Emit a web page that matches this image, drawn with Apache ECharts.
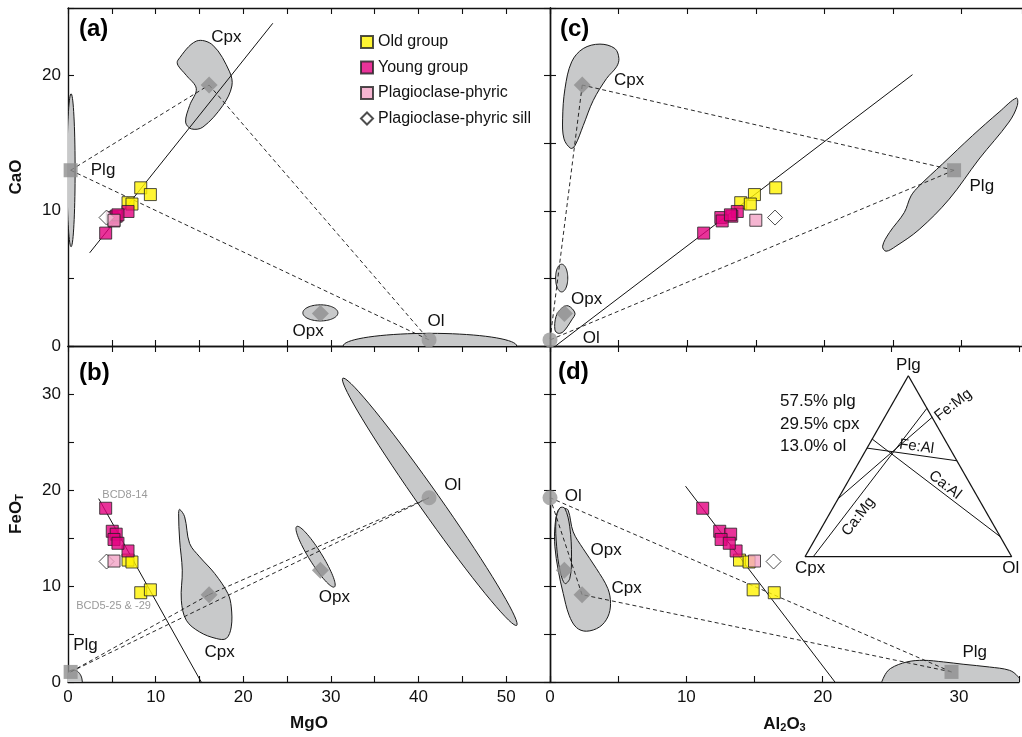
<!DOCTYPE html>
<html>
<head>
<meta charset="utf-8">
<title>Mixing diagrams</title>
<script src="https://cdn.jsdelivr.net/npm/echarts@6/dist/echarts.min.js"></script>
<style>
html, body { margin: 0; padding: 0; background: #fff; }
#chart { width: 1022px; height: 737px; }
</style>
</head>
<body>
<div id="chart"></div>
<script>
// 数据列: [MgO, CaO, FeOT, Al2O3]
var MGO = 0, CAO = 1, FEO = 2, AL = 3;

var oldGroup = [
    [8.3, 11.7, 9.3, 16.45],
    [9.4, 11.2, 9.6, 14.9],
    [6.85, 10.6, 12.7, 13.9],
    [7.3, 10.5, 12.5, 14.6]
];
var youngGroup = [
    [4.3, 8.35, 18.1, 11.2],
    [6.85, 9.95, 13.65, 13.65],
    [5.05, 9.5, 15.7, 12.45],
    [5.5, 9.6, 15.4, 13.25],
    [5.25, 9.25, 14.85, 12.55],
    [5.7, 9.7, 14.45, 13.15]
];
var plagPhyric = [[5.25, 9.3, 12.6, 15.0]];
var plagSill = [[4.4, 9.5, 12.55, 16.4]];

// 矿物端元
var plg = [0.3, 13.0, 1.05, 29.45];
var cpx = [16.1, 19.3, 9.1, 2.35];
var ol = [41.2, 0.45, 19.2, 0.0];
var opx = [28.8, 2.4, 11.65, 1.05];

// 矿物区域 (pts = 多边形, ell = 椭圆 [x1, y1, x2, y2, 短轴比])
var fieldsA = [
    {pts: [[12.54, 21.14], [14.64, 22.55], [16.53, 22.25], [18.44, 20.28], [18.70, 19.23], [17.67, 17.79], [15.39, 16.19], [14.07, 16.06], [13.42, 16.56], [13.88, 17.79], [14.64, 19.03], [13.50, 20.02], [12.54, 20.77]]},
    {ell: [0.35, 18.66, 0.35, 7.34, 0.053]},
    {ell: [26.8, 2.45, 30.8, 2.45, 0.46]},
    {ell: [31.4, 0, 51.2, 0, 0.146]}
];
var fieldsB = [
    {pts: [[12.74, 17.98], [13.31, 17.21], [13.88, 14.43], [15.02, 13.04], [16.73, 11.31], [18.24, 9.22], [18.63, 7.82], [18.63, 5.74], [18.06, 4.53], [16.92, 4.53], [15.02, 5.21], [13.50, 6.43], [12.93, 8.52], [13.04, 11.65], [12.74, 14.78], [12.62, 17.56]]},
    {ell: [26.1, 16.2, 30.4, 9.9, 0.18]},
    {ell: [31.36, 31.64, 51.2, 5.9, 0.07]},
    {ell: [0.6, 1.25, 0.6, -1.25, 0.75]}
];
var fieldsC = [
    {pts: [[5.02, 21.26], [4.73, 22.0], [3.64, 22.33], [2.42, 22.0], [1.58, 21.02], [1.09, 19.03], [0.92, 16.80], [1.02, 15.32], [1.51, 14.62], [1.82, 14.82], [2.42, 16.30], [3.15, 18.16], [4.12, 19.78], [4.85, 20.65]]},
    {ell: [0.85, 6.05, 0.85, 4.0, 0.44]},
    {pts: [[0.36, 1.19], [0.44, 2.18], [0.85, 2.80], [1.33, 2.97], [1.82, 2.43], [1.58, 1.93], [0.97, 1.06], [0.60, 0.94]]},
    {pts: [[33.99, 18.34], [34.06, 17.79], [33.45, 16.56], [31.27, 13.83], [29.09, 10.86], [26.91, 8.62], [25.21, 7.38], [24.49, 7.01], [24.24, 7.38], [24.73, 8.38], [25.82, 9.87], [26.31, 11.10], [26.91, 11.84], [28.60, 13.46], [30.79, 15.56], [32.73, 17.30]]}
];
var fieldsD = [
    {pts: [[1.02, 18.08], [1.33, 17.9], [1.70, 15.64], [2.42, 13.91], [3.40, 11.82], [4.24, 9.74], [4.44, 8.17], [4.24, 6.78], [3.64, 5.74], [2.67, 5.29], [1.94, 5.67], [1.40, 6.96], [0.97, 9.22], [0.60, 11.65], [0.36, 14.08], [0.36, 16.16], [0.60, 17.9]]},
    {pts: [[0.44, 16.86], [0.49, 14.08], [0.73, 11.65], [1.09, 10.26], [1.45, 10.78], [1.58, 13.03], [1.45, 16.16], [1.09, 18.08], [0.73, 18.14]]},
    {pts: [[24.4, -0.3], [24.49, 0.52], [24.97, 1.40], [26.18, 2.09], [27.40, 2.26], [28.85, 2.09], [30.30, 1.85], [32.24, 1.56], [33.7, 1.22], [34.3, 0.6], [34.6, -0.3]]}
];

// 趋势线
var trendA = [[2.47, 6.89], [23.37, 23.87]];
var trendB = [[3.5, 19.1], [15.2, 0]];
var trendC = [[0.4, 0], [26.42, 20.07]];
var trendD = [[9.94, 20.4], [20.9, 0]];

// 文字标注 [文字, x, y]
var labelsA = [['Cpx', 18.06, 22.8], ['Plg', 4.0, 13.0], ['Opx', 27.4, 1.06], ['Ol', 42.0, 1.86]];
var labelsB = [['Cpx', 17.3, 3.1], ['Opx', 30.4, 8.8], ['Ol', 43.9, 20.5], ['Plg', 2.0, 3.8]];
var notesB = [['BCD8-14', 6.5, 19.5], ['BCD5-25 & -29', 5.2, 7.9]];
var labelsC = [['Cpx', 5.77, 19.65], ['Opx', 2.67, 3.42], ['Ol', 3.0, 0.57], ['Plg', 31.47, 11.8]];
var labelsD = [['Ol', 1.7, 19.3], ['Opx', 4.12, 13.73], ['Cpx', 5.62, 9.74], ['Plg', 31.15, 3.13]];

// 三角图 [plg, cpx, ol]
var ternLines = [
    [[0.82, 0, 0.18], [0, 0.96, 0.04]],
    [[0.77, 0, 0.23], [0.32, 0.68, 0]],
    [[0.60, 0.40, 0], [0.53, 0, 0.47]],
    [[0.65, 0.35, 0], [0.11, 0, 0.89]]
];
// 三角图文字 [文字, x, y, 旋转, 字号]
var ternText = [
    ['Plg', 0.5, 1.06, 0, 17], ['Cpx', 0.025, -0.065, 0, 17], ['Ol', 0.995, -0.065, 0, 17],
    ['Fe:Mg', 0.717, 0.838, 0.66, 15], ['Fe:Al', 0.54, 0.608, -0.136, 15],
    ['Ca:Al', 0.677, 0.396, -0.66, 15], ['Ca:Mg', 0.258, 0.221, 0.92, 15]
];
var mixText = '57.5% plg\n29.5% cpx\n13.0% ol';

var FONT = 'Liberation Sans, Arial, Helvetica, sans-serif';

var panels = [
    {xi: MGO, yi: CAO, xr: [0, 55], yr: [0, 25], fields: fieldsA, trend: trendA, labels: labelsA},
    {xi: MGO, yi: FEO, xr: [0, 55], yr: [0, 35], fields: fieldsB, trend: trendB, labels: labelsB},
    {xi: AL, yi: CAO, xr: [0, 34.4], yr: [0, 25], fields: fieldsC, trend: trendC, labels: labelsC},
    {xi: AL, yi: FEO, xr: [0, 34.4], yr: [0, 35], fields: fieldsD, trend: trendD, labels: labelsD}
];

var grids = [
    {left: 68, top: 8, width: 482, height: 338},
    {left: 68, top: 346, width: 482, height: 336},
    {left: 550, top: 8, width: 472, height: 338},
    {left: 550, top: 346, width: 472, height: 336},
    {left: 805, top: 375.7, width: 206.7, height: 181}
];

function makeAxis(gi, pos, range, showLabel, showLine) {
    return {
        type: 'value', gridIndex: gi, position: pos,
        min: range[0], max: range[1], interval: 5,
        axisLine: {show: showLine, onZero: false, lineStyle: {color: '#111', width: 1.4}},
        axisTick: {show: showLine, inside: true, length: 6, lineStyle: {color: '#111', width: 1.1}},
        splitLine: {show: false},
        axisLabel: {
            show: showLabel, margin: 7, fontSize: 17, color: '#111', fontFamily: FONT,
            formatter: function (v) { return v % 10 === 0 ? String(v) : ''; }
        }
    };
}

var xAxes = [], yAxes = [];
panels.forEach(function (p, gi) {
    xAxes.push(makeAxis(gi, 'bottom', p.xr, gi === 1 || gi === 3, true));
    xAxes.push(makeAxis(gi, 'top', p.xr, false, true));
    yAxes.push(makeAxis(gi, 'left', p.yr, gi < 2, true));
    yAxes.push(makeAxis(gi, 'right', p.yr, false, gi < 2));
});
xAxes.push({type: 'value', gridIndex: 4, min: 0, max: 1, show: false});
yAxes.push({type: 'value', gridIndex: 4, min: 0, max: 1, show: false});

var nameBold = {fontSize: 17, fontWeight: 'bold', color: '#111', fontFamily: FONT};
var subBold = {fontSize: 11, fontWeight: 'bold', color: '#111', fontFamily: FONT, verticalAlign: 'bottom', padding: [7, 0, 0, 0]};

Object.assign(xAxes[2], {name: 'MgO', nameLocation: 'middle', nameGap: 33, nameTextStyle: nameBold});
Object.assign(xAxes[6], {name: '{b|Al}{s|2}{b|O}{s|3}', nameLocation: 'middle', nameGap: 33,
    nameTextStyle: {rich: {b: nameBold, s: subBold}}});
Object.assign(yAxes[0], {name: 'CaO', nameLocation: 'middle', nameGap: 43, nameTextStyle: nameBold});
Object.assign(yAxes[2], {name: '{b|FeO}{s|T}', nameLocation: 'middle', nameGap: 43,
    nameTextStyle: {rich: {b: nameBold, s: subBold}}});

var fieldStyle = {fill: '#c8c9ca', stroke: '#1a1a1a', lineWidth: 1};

function fieldSeries(gi, fields) {
    return {
        type: 'custom', xAxisIndex: 2 * gi, yAxisIndex: 2 * gi, clip: true, z: 1, silent: true,
        data: fields.map(function (f, i) { return [i, 0]; }),
        renderItem: function (params, api) {
            var f = fields[api.value(0)];
            if (f.pts) {
                return {type: 'polygon', shape: {points: f.pts.map(function (q) { return api.coord(q); }), smooth: 0.35}, style: fieldStyle};
            }
            var a = api.coord([f.ell[0], f.ell[1]]), b = api.coord([f.ell[2], f.ell[3]]);
            var cx = (a[0] + b[0]) / 2, cy = (a[1] + b[1]) / 2;
            var dx = (b[0] - a[0]) / 2, dy = (b[1] - a[1]) / 2, r = f.ell[4];
            var pts = [];
            for (var k = 0; k < 72; k++) {
                var t = k / 72 * 2 * Math.PI, c = Math.cos(t), s = Math.sin(t);
                pts.push([cx + dx * c - dy * r * s, cy + dy * c + dx * r * s]);
            }
            return {type: 'polygon', shape: {points: pts}, style: fieldStyle};
        }
    };
}

function segSeries(xIdx, yIdx, segs, z) {
    return {
        type: 'custom', xAxisIndex: xIdx, yAxisIndex: yIdx, z: z, silent: true, clip: false,
        data: segs.map(function (s) { return [s[0][0], s[0][1], s[1][0], s[1][1], s[2] ? 1 : 0, s[3] || 1]; }),
        renderItem: function (params, api) {
            var p1 = api.coord([api.value(0), api.value(1)]);
            var p2 = api.coord([api.value(2), api.value(3)]);
            var dashed = api.value(4) === 1;
            return {
                type: 'line', shape: {x1: p1[0], y1: p1[1], x2: p2[0], y2: p2[1]},
                style: {stroke: '#111', lineWidth: api.value(5), lineDash: dashed ? [4, 3] : null}
            };
        }
    };
}

function textSeries(xIdx, yIdx, items, z) {
    return {
        type: 'custom', xAxisIndex: xIdx, yAxisIndex: yIdx, z: z, silent: true, clip: false,
        data: items.map(function (t, i) { return [t[1], t[2], i]; }),
        renderItem: function (params, api) {
            var t = items[api.value(2)];
            var p = api.coord([api.value(0), api.value(1)]);
            return {
                type: 'text', x: p[0], y: p[1], rotation: t.rot || 0,
                style: {text: t[0], fontSize: t.size || 17, fontFamily: FONT, fill: t.color || '#111', align: 'center', verticalAlign: 'middle'}
            };
        }
    };
}

function pick(rows, xi, yi) {
    return rows.map(function (r) { return [r[xi], r[yi]]; });
}

var series = [];
panels.forEach(function (p, gi) {
    var xi = p.xi, yi = p.yi;
    series.push(fieldSeries(gi, p.fields));
    var P = [plg[xi], plg[yi]], C = [cpx[xi], cpx[yi]], O = [ol[xi], ol[yi]];
    series.push(segSeries(2 * gi, 2 * gi, [[P, C, true, 0.9], [C, O, true, 0.9], [P, O, true, 0.9], [p.trend[0], p.trend[1], false, 1]], 2));
    series.push({
        type: 'scatter', xAxisIndex: 2 * gi, yAxisIndex: 2 * gi, z: 3, silent: true, clip: false,
        itemStyle: {color: '#8e8e8e'},
        data: [
            {value: P, symbol: 'rect', symbolSize: 14},
            {value: C, symbol: 'diamond', symbolSize: 17},
            {value: O, symbol: 'circle', symbolSize: 15, itemStyle: {color: '#999'}},
            {value: [opx[xi], opx[yi]], symbol: 'diamond', symbolSize: 17}
        ]
    });
    var groups = [
        {name: 'Old group', rows: oldGroup, symbol: 'rect', size: 12, color: '#fff200'},
        {name: 'Young group', rows: youngGroup, symbol: 'rect', size: 12, color: '#e4007f'},
        {name: 'Plagioclase-phyric sill', rows: plagSill, symbol: 'diamond', size: 15, color: '#ffffff'},
        {name: 'Plagioclase-phyric', rows: plagPhyric, symbol: 'rect', size: 12, color: '#f3a2c6'}
    ];
    groups.forEach(function (g) {
        series.push({
            name: g.name, type: 'scatter', xAxisIndex: 2 * gi, yAxisIndex: 2 * gi, z: 4, clip: false,
            symbol: g.symbol, symbolSize: g.size,
            itemStyle: {color: g.color, borderColor: '#222', borderWidth: 1},
            data: pick(g.rows, xi, yi)
        });
    });
    series.push(textSeries(2 * gi, 2 * gi, p.labels, 5));
});
series.push(textSeries(2, 2, notesB.map(function (n) { var t = n.slice(); t.size = 11; t.color = '#9a9a9a'; return t; }), 5));

// 三角图
function tern(v) { return [v[2] + v[0] / 2, v[0]]; }
var tP = tern([1, 0, 0]), tC = tern([0, 1, 0]), tO = tern([0, 0, 1]);
var ternSegs = [[tP, tC, false, 1.3], [tC, tO, false, 1.3], [tO, tP, false, 1.3]].concat(
    ternLines.map(function (l) { return [tern(l[0]), tern(l[1]), false, 1]; }));
series.push(segSeries(8, 8, ternSegs, 2));
series.push(textSeries(8, 8, ternText.map(function (t) { var r = [t[0], t[1], t[2]]; r.rot = t[3]; r.size = t[4]; return r; }), 5));

var option = {
    animation: false,
    backgroundColor: '#fff',
    grid: grids,
    xAxis: xAxes,
    yAxis: yAxes,
    legend: {
        data: ['Old group', 'Young group', 'Plagioclase-phyric', 'Plagioclase-phyric sill'],
        orient: 'vertical', left: 355, top: 29, itemWidth: 12, itemHeight: 12, itemGap: 9.5,
        selectedMode: false,
        textStyle: {fontSize: 16, color: '#111', fontFamily: FONT}
    },
    graphic: [
        {type: 'text', x: 79, y: 29, style: {text: '(a)', fontSize: 24, fontWeight: 'bold', fill: '#000', fontFamily: FONT, verticalAlign: 'middle'}},
        {type: 'text', x: 79, y: 373, style: {text: '(b)', fontSize: 24, fontWeight: 'bold', fill: '#000', fontFamily: FONT, verticalAlign: 'middle'}},
        {type: 'text', x: 560, y: 29, style: {text: '(c)', fontSize: 24, fontWeight: 'bold', fill: '#000', fontFamily: FONT, verticalAlign: 'middle'}},
        {type: 'text', x: 558, y: 372, style: {text: '(d)', fontSize: 24, fontWeight: 'bold', fill: '#000', fontFamily: FONT, verticalAlign: 'middle'}},
        {type: 'text', x: 780, y: 390.5, style: {text: mixText, fontSize: 17, lineHeight: 22.5, fill: '#111', fontFamily: FONT, verticalAlign: 'top'}}
    ],
    series: series
};

var myChart = echarts.init(document.getElementById('chart'));
myChart.setOption(option);
</script>
</body>
</html>
